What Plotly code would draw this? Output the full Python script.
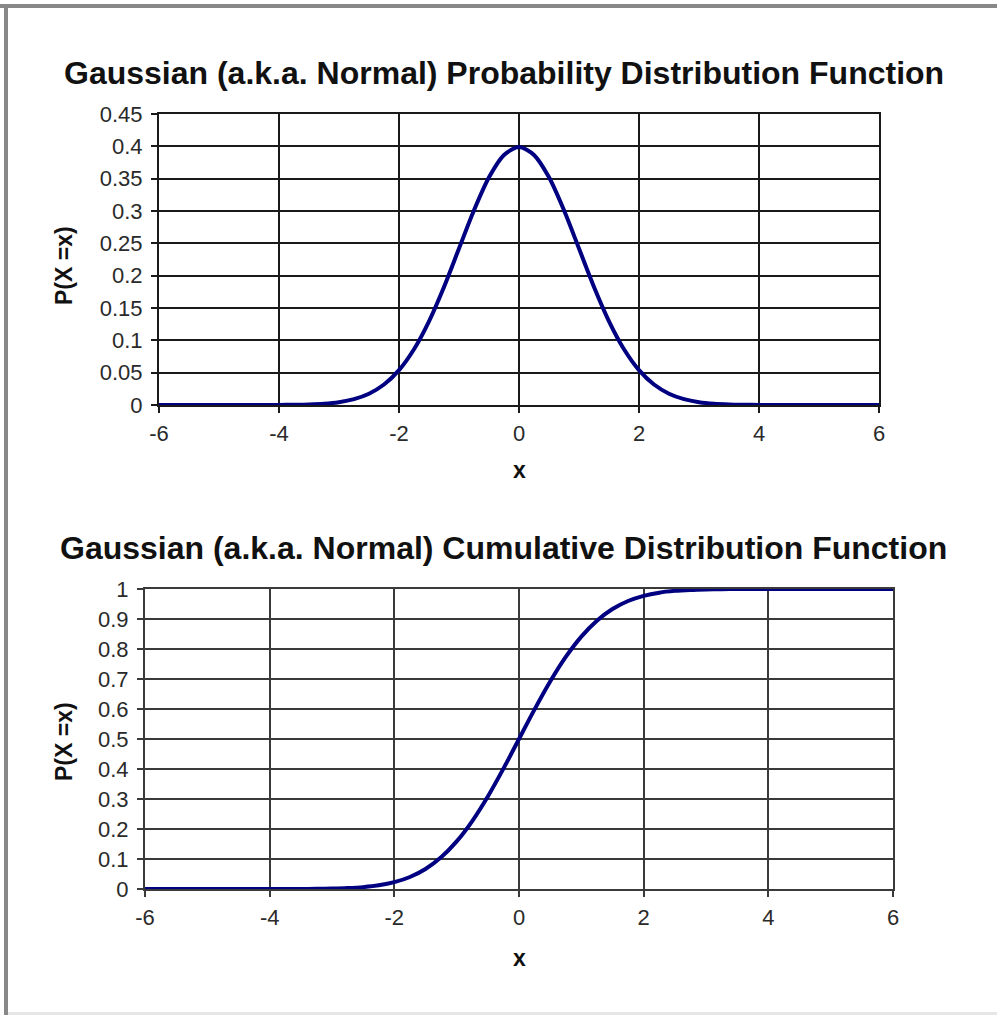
import plotly.graph_objects as go

# page is 997x1015; the browser body keeps an 8px margin, so the figure is 16px smaller
PAGE_W, PAGE_H = 997, 1015
OFF = 8
W, H = PAGE_W - 2 * OFF, PAGE_H - 2 * OFF

x_vals = [-6.0, -5.75, -5.5, -5.25, -5.0, -4.75, -4.5, -4.25, -4.0, -3.75, -3.5, -3.25,
          -3.0, -2.75, -2.5, -2.25, -2.0, -1.75, -1.5, -1.25, -1.0, -0.75, -0.5, -0.25,
          0.0, 0.25, 0.5, 0.75, 1.0, 1.25, 1.5, 1.75, 2.0, 2.25, 2.5, 2.75, 3.0, 3.25,
          3.5, 3.75, 4.0, 4.25, 4.5, 4.75, 5.0, 5.25, 5.5, 5.75, 6.0]

pdf_vals = [0.0, 0.0, 0.0, 0.0, 0.0, 0.0, 0.0, 0.0, 0.0001, 0.0004, 0.0009, 0.0020,
            0.0044, 0.0091, 0.0175, 0.0317, 0.0540, 0.0863, 0.1295, 0.1826, 0.2420, 0.3011, 0.3521, 0.3867,
            0.3989, 0.3867, 0.3521, 0.3011, 0.2420, 0.1826, 0.1295, 0.0863, 0.0540, 0.0317, 0.0175, 0.0091,
            0.0044, 0.0020, 0.0009, 0.0004, 0.0001, 0.0, 0.0, 0.0, 0.0, 0.0, 0.0, 0.0, 0.0]

cdf_vals = [0.0, 0.0, 0.0, 0.0, 0.0, 0.0, 0.0, 0.0, 0.0, 0.0001, 0.0002, 0.0006,
            0.0013, 0.0030, 0.0062, 0.0122, 0.0228, 0.0401, 0.0668, 0.1056, 0.1587, 0.2266, 0.3085, 0.4013,
            0.5, 0.5987, 0.6915, 0.7734, 0.8413, 0.8944, 0.9332, 0.9599, 0.9772, 0.9878, 0.9938, 0.9970,
            0.9987, 0.9994, 0.9998, 0.9999, 1.0, 1.0, 1.0, 1.0, 1.0, 1.0, 1.0, 1.0, 1.0]

x_ticks = [-6, -4, -2, 0, 2, 4, 6]
x_ticklabels = ["-6", "-4", "-2", "0", "2", "4", "6"]
pdf_ticks = [0, 0.05, 0.1, 0.15, 0.2, 0.25, 0.3, 0.35, 0.4, 0.45]
pdf_ticklabels = ["0", "0.05", "0.1", "0.15", "0.2", "0.25", "0.3", "0.35", "0.4", "0.45"]
cdf_ticks = [0, 0.1, 0.2, 0.3, 0.4, 0.5, 0.6, 0.7, 0.8, 0.9, 1]
cdf_ticklabels = ["0", "0.1", "0.2", "0.3", "0.4", "0.5", "0.6", "0.7", "0.8", "0.9", "1"]

title_pdf = "Gaussian (a.k.a. Normal) Probability Distribution Function"
title_cdf = "Gaussian (a.k.a. Normal) Cumulative Distribution Function"
x_title = "x"
y_title = "P(X =x)"

FONT = "Liberation Sans, Arial, sans-serif"
LINE = "#000080"

def px_x(p):
    return (p - OFF) / W

def px_y(p):
    return 1 - (p - OFF) / H

fig = go.Figure()
fig.add_trace(go.Scatter(x=x_vals, y=pdf_vals, mode="lines",
                         line=dict(color=LINE, width=4, shape="spline", smoothing=0.8),
                         xaxis="x", yaxis="y", showlegend=False, cliponaxis=False))
fig.add_trace(go.Scatter(x=x_vals, y=cdf_vals, mode="lines",
                         line=dict(color=LINE, width=4, shape="spline", smoothing=0.8),
                         xaxis="x2", yaxis="y2", showlegend=False, cliponaxis=False))

tickfont = dict(family=FONT, size=22, color="#2a2a2a")

def xaxis(domain, anchor, grid):
    return dict(domain=domain, anchor=anchor, range=[-6, 6], tickvals=x_ticks, ticktext=x_ticklabels,
                showgrid=True, gridcolor=grid, gridwidth=2, zeroline=False,
                showline=True, linecolor=grid, linewidth=2, mirror=True,
                ticks="outside", ticklen=6, tickwidth=2, tickcolor=grid, automargin=False,
                tickfont=tickfont, fixedrange=True, ticklabelstandoff=2)

def yaxis(domain, anchor, rng, ticks, labels, grid):
    return dict(domain=domain, anchor=anchor, range=rng, tickvals=ticks, ticktext=labels,
                showgrid=True, gridcolor=grid, gridwidth=2, zeroline=False,
                showline=True, linecolor=grid, linewidth=2, mirror=True,
                ticks="outside", ticklen=6, tickwidth=2, tickcolor=grid, automargin=False,
                tickfont=tickfont, fixedrange=True, ticklabelstandoff=4)

fig.update_layout(
    width=W, height=H, autosize=False,
    margin=dict(l=0, r=0, t=0, b=0, pad=0, autoexpand=False),
    paper_bgcolor="white", plot_bgcolor="white",
    xaxis=xaxis([px_x(159), px_x(879)], "y", "#1a1a1a"),
    yaxis=yaxis([px_y(405), px_y(114)], "x", [0, 0.45], pdf_ticks, pdf_ticklabels, "#1a1a1a"),
    xaxis2=xaxis([px_x(145), px_x(893)], "y2", "#3a3a3a"),
    yaxis2=yaxis([px_y(889), px_y(589)], "x2", [0, 1], cdf_ticks, cdf_ticklabels, "#3a3a3a"),
)

TITLE_FONT = dict(family=FONT, size=32, color="#111")
AX_FONT = dict(family=FONT, size=23, color="#111")

def note(text, cx, cy, font, angle=0):
    return dict(text="<b>" + text + "</b>", x=px_x(cx), y=px_y(cy), xref="paper", yref="paper",
                showarrow=False, font=font, textangle=angle, xanchor="center", yanchor="middle")

ann = [
    note(title_pdf, 504, 73, TITLE_FONT),
    note(title_cdf, 503, 548, TITLE_FONT),
    note(x_title, 519, 470, AX_FONT),
    note(x_title, 519, 958, AX_FONT),
    note(y_title, 64, 266, AX_FONT, -90),
    note(y_title, 64, 742, AX_FONT, -90),
]
fig.update_layout(annotations=ann)

fig.write_html(
    "out.html",
    config={"displayModeBar": False},
    post_script=(
        "document.documentElement.style.background="
        "'linear-gradient(#888,#888) 0 4px/100% 4px no-repeat,"
        "linear-gradient(#888,#888) 4px 4px/4px 100% no-repeat,"
        "linear-gradient(#e6e6e6,#e6e6e6) 4px 1012px/100% 3px no-repeat,white';"
    ),
)
